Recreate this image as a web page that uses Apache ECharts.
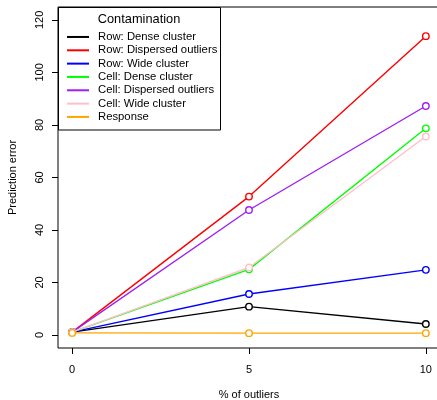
<!DOCTYPE html>
<html>
<head>
<meta charset="utf-8">
<script src="https://cdn.jsdelivr.net/npm/echarts@6/dist/echarts.min.js"></script>
<style>html,body{margin:0;padding:0;background:#fff}#c{width:437px;height:400px}</style>
</head>
<body>
<div id="c"></div>
<script>
const xValues = [0, 5, 10];
const xTicks = [0, 5, 10];
const yTicks = [0, 20, 40, 60, 80, 100, 120];
const seriesNames = ["Row: Dense cluster", "Row: Dispersed outliers", "Row: Wide cluster",
  "Cell: Dense cluster", "Cell: Dispersed outliers", "Cell: Wide cluster", "Response"];
const seriesColors = ["#000000", "#FF0000", "#0000FF", "#00FF00", "#A020F0", "#FFC0CB", "#FFA500"];
const rowDense = [1.1, 10.8, 4.2];
const rowDispersed = [1.1, 52.7, 113.8];
const rowWide = [1.1, 15.6, 24.8];
const cellDense = [1.1, 25.0, 78.7];
const cellDispersed = [1.1, 47.6, 87.2];
const cellWide = [1.1, 25.7, 75.6];
const response = [0.8, 0.7, 0.7];
const allValues = [rowDense, rowDispersed, rowWide, cellDense, cellDispersed, cellWide, response];

const font = "'Liberation Sans', Arial, sans-serif";
const chart = echarts.init(document.getElementById('c'), null, {renderer: 'canvas'});

const series = allValues.map((vals, i) => ({
  name: seriesNames[i],
  type: 'line',
  data: vals.map((v, j) => [xValues[j], v]),
  symbol: 'circle',
  symbolSize: 6.5,
  showSymbol: true,
  lineStyle: {color: seriesColors[i], width: 1.4},
  itemStyle: {color: '#ffffff', borderColor: seriesColors[i], borderWidth: 1.4},
  emphasis: {disabled: true},
  animation: false,
  z: 2 + i
}));

chart.setOption({
  animation: false,
  grid: {left: 58, top: 7, right: -3, bottom: 52, show: true, borderColor: '#000', borderWidth: 1,
    backgroundColor: 'transparent', containLabel: false, outerBoundsMode: 'none'},
  xAxis: {
    type: 'value', min: -0.4, max: 10.4,
    name: '% of outliers', nameLocation: 'middle', nameGap: 41,
    nameTextStyle: {fontFamily: font, fontSize: 11, color: '#000'},
    axisLine: {show: false, onZero: false},
    splitLine: {show: false},
    axisTick: {show: true, inside: false, length: 6, lineStyle: {color: '#000', width: 1}, customValues: xTicks},
    axisLabel: {fontFamily: font, fontSize: 11, color: '#000', margin: 16, customValues: xTicks}
  },
  yAxis: {
    type: 'value', min: -4.95, max: 124.9,
    name: 'Prediction error', nameLocation: 'middle', nameGap: 40, nameRotate: 90,
    nameTextStyle: {fontFamily: font, fontSize: 11, color: '#000'},
    axisLine: {show: false, onZero: false},
    splitLine: {show: false},
    axisTick: {show: true, inside: false, length: 6, lineStyle: {color: '#000', width: 1}, customValues: yTicks},
    axisLabel: {fontFamily: font, fontSize: 11, color: '#000', margin: 13, rotate: 90, customValues: yTicks}
  },
  legend: {
    show: true,
    orient: 'vertical',
    left: 58, top: 7,
    padding: [23.3, 3, 6, 9],
    itemGap: 0,
    itemWidth: 22,
    itemHeight: 2,
    icon: 'rect',
    selectedMode: false,
    z: 10,
    textStyle: {fontFamily: font, fontSize: 11.3, color: '#000', lineHeight: 13.33, padding: [0, 0, 0, 4]},
    data: seriesNames.map((n, i) => ({name: n, itemStyle: {color: seriesColors[i], borderWidth: 0}}))
  },
  graphic: [
    {type: 'rect', z: 9, shape: {x: 58.5, y: 7.5, width: 162, height: 122.5}, style: {fill: '#fff', stroke: '#000', lineWidth: 1}},
    {type: 'text', z: 11, x: 139, y: 19, style: {text: 'Contamination', fontFamily: font, fontSize: 12.8, fill: '#000', textAlign: 'center', textVerticalAlign: 'middle'}}
  ],
  series: series
});
</script>
</body>
</html>
